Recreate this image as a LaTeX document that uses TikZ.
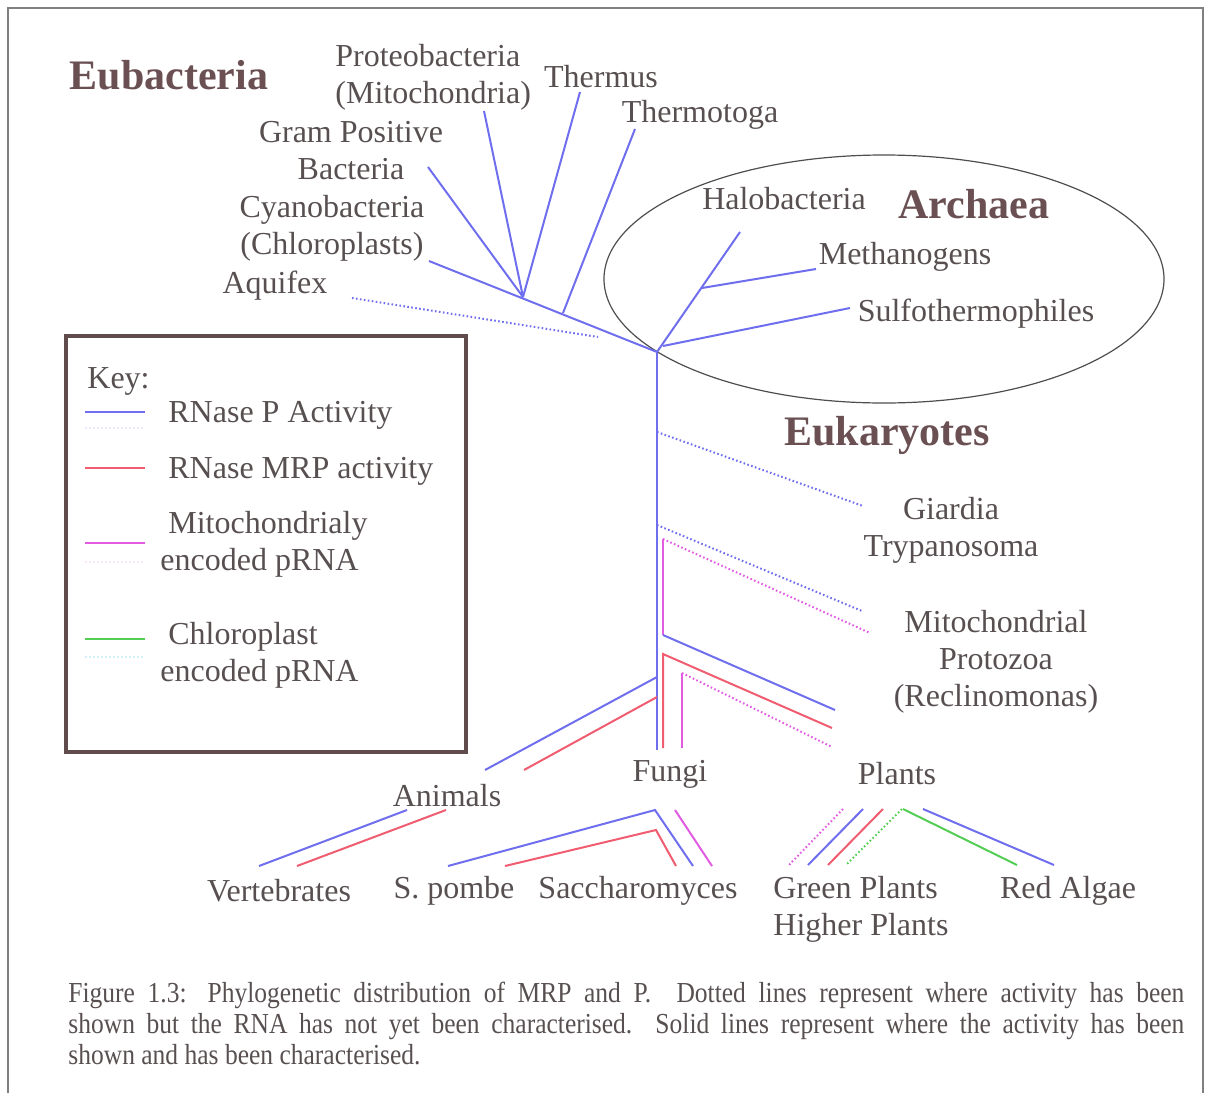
\documentclass[tikz,border=0pt]{standalone}
\usepackage{fontspec}
\setmainfont{Liberation Serif}
\newfontfamily\capfont[FakeStretch=0.88]{Liberation Serif}
\usepackage{tikz}
\usetikzlibrary{positioning,calc}
\definecolor{pblue}{RGB}{110,110,238}
\definecolor{mrpred}{RGB}{240,92,112}
\definecolor{mitomag}{RGB}{226,92,226}
\definecolor{chlgreen}{RGB}{84,205,84}
\definecolor{labelgray}{RGB}{88,80,80}
\definecolor{kingdomcol}{RGB}{106,80,82}
\definecolor{keybrown}{RGB}{96,76,76}
\definecolor{framegray}{RGB}{128,128,128}
\definecolor{ringgray}{RGB}{78,78,78}

\begin{document}
\begin{tikzpicture}[x=0.5pt, y=-0.5pt,
  lbl/.style={text=labelgray, font=\fontsize{16}{18.5}\selectfont, inner sep=0pt, align=center, yshift=-1.5pt},
  kingdom/.style={text=kingdomcol, font=\fontsize{21}{25}\selectfont\bfseries, inner sep=0pt},
  captxt/.style={text=labelgray, font=\capfont\fontsize{14.5}{15.5}\selectfont, inner sep=0pt, text width=558pt, align=justify},
  pline/.style={draw=pblue, line width=1pt},
  mrpline/.style={draw=mrpred, line width=1pt},
  mitoline/.style={draw=mitomag, line width=1pt},
  chlline/.style={draw=chlgreen, line width=1pt},
  uncharted/.style={dash pattern=on 0.8pt off 1.2pt},
  keybox/.style={draw=keybrown, line width=2pt},
  ring/.style={draw=ringgray, line width=0.6pt}]

\useasboundingbox (0,0) rectangle (1206,1093);
\draw[draw=framegray, line width=0.7pt] (8,1093) |- (1203,8) -- (1203,1093);

% KINGDOMS

\node [kingdom] (eubac) at (169,75) {Eubacteria};
\node [kingdom] (archaea) at (974,204) {Archaea};
\node [kingdom] (eukar) at (887,435) {Eukaryotes};

\draw[ring] (884,279) ellipse [x radius=140pt, y radius=62pt];

% LABELS

\node [lbl, anchor=west, align=left] (proteo) at (335,74) {Proteobacteria\\(Mitochondria)};
\node [lbl] (thermus) at (601,74) {Thermus};
\node [lbl] (thermotoga) at (700,112) {Thermotoga};
\node [lbl] (gram) at (351,148) {Gram Positive\\Bacteria};
\node [lbl] (cyano) at (332,225) {Cyanobacteria\\(Chloroplasts)};
\node [lbl] (aquifex) at (275,283) {Aquifex};
\node [lbl] (halo) at (784,196) {Halobacteria};
\node [lbl] (methano) at (905,254) {Methanogens};
\node [lbl] (sulfo) at (976,311) {Sulfothermophiles};
\node [lbl] (giardia) at (951,527) {Giardia\\Trypanosoma};
\node [lbl] (protozoa) at (996,659) {Mitochondrial\\Protozoa\\(Reclinomonas)};
\node [lbl] (animals) at (447,793) {Animals};
\node [lbl] (fungi) at (670,771) {Fungi};
\node [lbl] (plants) at (897,771) {Plants};
\node [lbl] (verteb) at (279,888) {Vertebrates};
\node [lbl] (pombe) at (454,888) {S. pombe};
\node [lbl] (saccharo) at (638,888) {Saccharomyces};
\node [lbl, anchor=west, align=left] (green) at (773,906) {Green Plants\\Higher Plants};
\node [lbl] (redalgae) at (1068,888) {Red Algae};

% BRANCH POINTS

\coordinate (root) at (657,352);
\coordinate (fan) at (523,297);
\coordinate (tgj) at (563,313);
\coordinate (methj) at (702,288);
\coordinate (sulfj) at (663,346);
\coordinate (trunkend) at (657,750);

% EUBACTERIA

\draw[pline] (root) -- (429,261);
\draw[pline] (fan) -- (428,167);
\draw[pline] (fan) -- (484,111);
\draw[pline] (fan) -- (580,92);
\draw[pline] (tgj) -- (635,129);
\draw[pline, uncharted] (352,298) -- (598,337);

% ARCHAEA

\draw[pline] (root) -- (740,232);
\draw[pline] (methj) -- (816,269);
\draw[pline] (sulfj) -- (850,308);

% EUKARYOTES

\draw[pline] (root) -- (trunkend);
\draw[pline, uncharted] (657,432) -- (863,506);
\draw[pline, uncharted] (657,525) -- (862,611);
\draw[mitoline, uncharted] (663,539) -- (870,633);
\draw[mitoline] (663,539) -- (663,635);
\draw[pline] (663,635) -- (835,710);
\draw[mrpline] (663,748) -- (663,654) -- (832,728);
\draw[mitoline] (682,748) -- (682,673);
\draw[mitoline, uncharted] (682,673) -- (832,747);
\draw[pline] (657,677) -- (485,770);
\draw[mrpline] (657,697) -- (524,770);

% SUB BRANCHES

\draw[pline] (407,810) -- (259,866);
\draw[mrpline] (446,810) -- (297,866);
\draw[pline] (448,866) -- (655,810) -- (693,866);
\draw[mrpline] (505,866) -- (656,830) -- (676,866);
\draw[mitoline] (675,810) -- (712,866);
\draw[mitoline, uncharted] (843,809) -- (789,865);
\draw[pline] (863,809) -- (808,865);
\draw[mrpline] (883,809) -- (828,865);
\draw[chlline, uncharted] (902,809) -- (846,865);
\draw[chlline] (903,809) -- (1017,865);
\draw[pline] (923,809) -- (1054,865);

% KEY

\draw[keybox] (66,336) rectangle (466,752);
\node [lbl, anchor=west] (keytitle) at (87,378) {Key:};
\node [lbl, anchor=west] (pkey) at (168,412) {RNase P Activity};
\node [lbl, anchor=west] (mrpkey) at (168,468) {RNase MRP activity};
\node [lbl, anchor=west] (mitokey) at (168,523) {Mitochondrialy};
\node [lbl, anchor=west] (mitokeyb) at ([xshift=-4pt, yshift=-17pt]mitokey.west) {encoded pRNA};
\node [lbl, anchor=west] (chlkey) at (168,634) {Chloroplast};
\node [lbl, anchor=west] (chlkeyb) at ([xshift=-4pt, yshift=-17pt]chlkey.west) {encoded pRNA};

\draw[pline] (85,412) -- ++(60,0);
\draw[pblue!15, line width=1pt, uncharted] (85,428) -- ++(60,0);
\draw[mrpline] (85,468) -- ++(60,0);
\draw[mitoline] (85,543) -- ++(60,0);
\draw[mitomag!15, line width=1pt, uncharted] (85,562) -- ++(60,0);
\draw[chlline] (85,639) -- ++(60,0);
\draw[cyan!18, line width=1pt, uncharted] (85,657) -- ++(60,0);

% CAPTION

\node [captxt, anchor=north west] (caption) at (68,982)
{Figure 1.3: Phylogenetic distribution of MRP and P.\ \ Dotted lines represent where activity has been\linebreak
shown but the RNA has not yet been characterised.\ \ Solid lines represent where the activity has been\linebreak
shown and has been characterised.};

\end{tikzpicture}
\end{document}
